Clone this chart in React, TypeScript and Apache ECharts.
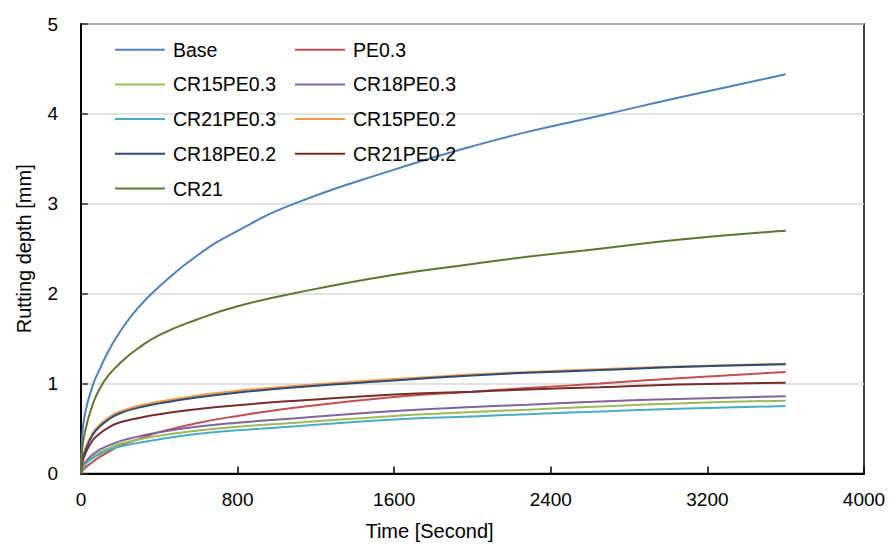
import React, { useEffect, useRef } from "react";
import * as echarts from "echarts";

const timeSec = [0, 5, 20, 60, 100, 140, 200, 290, 400, 590, 800, 1100, 1600, 2000, 2280, 2650, 3050, 3600];

const seriesNames = ["Base", "PE0.3", "CR15PE0.3", "CR18PE0.3", "CR21PE0.3", "CR15PE0.2", "CR18PE0.2", "CR21PE0.2", "CR21"];
const seriesColors = ["#4F81BD", "#C0504D", "#9BBB59", "#8064A2", "#4BACC6", "#F79646", "#2C4D75", "#772C2A", "#5F7530"];

const base = [0, 0.38, 0.66, 0.98, 1.18, 1.36, 1.58, 1.84, 2.08, 2.42, 2.7, 3.01, 3.38, 3.64, 3.8, 3.98, 4.18, 4.44];
const pe03 = [0, 0.02, 0.06, 0.13, 0.19, 0.24, 0.31, 0.38, 0.46, 0.56, 0.64, 0.735, 0.85, 0.91, 0.95, 1.0, 1.06, 1.13];
const cr15pe03 = [0, 0.04, 0.1, 0.18, 0.24, 0.28, 0.33, 0.375, 0.42, 0.475, 0.52, 0.565, 0.64, 0.685, 0.71, 0.745, 0.78, 0.81];
const cr18pe03 = [0, 0.05, 0.12, 0.21, 0.27, 0.31, 0.36, 0.41, 0.46, 0.52, 0.565, 0.615, 0.695, 0.74, 0.765, 0.8, 0.83, 0.86];
const cr21pe03 = [0, 0.04, 0.1, 0.17, 0.22, 0.26, 0.3, 0.34, 0.38, 0.44, 0.48, 0.525, 0.6, 0.635, 0.66, 0.69, 0.72, 0.75];
const cr15pe02 = [0, 0.12, 0.26, 0.45, 0.55, 0.62, 0.69, 0.75, 0.8, 0.865, 0.92, 0.975, 1.05, 1.1, 1.13, 1.16, 1.19, 1.22];
const cr18pe02 = [0, 0.11, 0.24, 0.43, 0.53, 0.6, 0.67, 0.73, 0.78, 0.845, 0.9, 0.96, 1.035, 1.09, 1.12, 1.15, 1.185, 1.215];
const cr21pe02 = [0, 0.1, 0.21, 0.37, 0.45, 0.51, 0.57, 0.615, 0.66, 0.715, 0.76, 0.81, 0.88, 0.91, 0.935, 0.96, 0.99, 1.01];
const cr21 = [0, 0.24, 0.46, 0.77, 0.96, 1.09, 1.23, 1.39, 1.54, 1.71, 1.86, 2.01, 2.21, 2.33, 2.41, 2.5, 2.6, 2.7];

const allValues = [base, pe03, cr15pe03, cr18pe03, cr21pe03, cr15pe02, cr18pe02, cr21pe02, cr21];

const xTicks = [0, 800, 1600, 2400, 3200, 4000];
const yTicks = [0, 1, 2, 3, 4, 5];

const legendLeft = ["Base", "CR15PE0.3", "CR21PE0.3", "CR18PE0.2", "CR21"];
const legendRight = ["PE0.3", "CR18PE0.3", "CR15PE0.2", "CR21PE0.2"];

const FONT = "'Liberation Sans', Arial, sans-serif";

export default function App() {
  const ref = useRef<HTMLDivElement>(null);
  useEffect(() => {
    document.body.style.margin = "0";
    const chart = echarts.init(ref.current!, null, { renderer: "svg" });
    const legendCommon = {
      orient: "vertical",
      itemWidth: 50,
      itemHeight: 14,
      itemGap: 14.7,
      padding: 0,
      icon: "path://M0,6L50,6L50,8L0,8Z",
      textStyle: { fontFamily: FONT, fontSize: 19.5, color: "#000", padding: [0, 0, 0, 3] },
    };
    chart.setOption({
      animation: false,
      color: seriesColors,
      textStyle: { fontFamily: FONT },
      grid: {
        left: 81,
        right: 26,
        top: 24,
        bottom: 72.5,
        show: true,
        borderColor: "#000",
        borderWidth: 1.5,
        containLabel: false,
      },
      legend: [
        { ...legendCommon, data: legendLeft, left: 115, top: 39.7 },
        { ...legendCommon, data: legendRight, left: 295, top: 39.7 },
      ],
      xAxis: {
        type: "value",
        min: xTicks[0],
        max: xTicks[xTicks.length - 1],
        interval: 800,
        name: "Time [Second]",
        nameLocation: "middle",
        nameGap: 47,
        nameTextStyle: { fontSize: 20, color: "#000", fontFamily: FONT, padding: [0, 86, 0, 0] },
        axisLine: { show: true, lineStyle: { color: "#000", width: 2 } },
        axisTick: { show: true, inside: true, length: 7, lineStyle: { color: "#000", width: 1.5 } },
        axisLabel: { fontSize: 19, color: "#000", margin: 16, fontFamily: FONT, formatter: (v: number) => String(v) },
        splitLine: { show: false },
      },
      yAxis: {
        type: "value",
        min: yTicks[0],
        max: yTicks[yTicks.length - 1],
        interval: 1,
        name: "Rutting depth [mm]",
        nameLocation: "middle",
        nameGap: 47,
        nameTextStyle: { fontSize: 20, color: "#000", fontFamily: FONT },
        axisLine: { show: true, lineStyle: { color: "#000", width: 2 } },
        axisTick: { show: true, inside: true, length: 7, lineStyle: { color: "#333", width: 1.5 } },
        axisLabel: { fontSize: 19, color: "#000", margin: 23, fontFamily: FONT, formatter: (v: number) => String(v) },
        splitLine: { show: true, lineStyle: { color: "#D9D9D9", width: 1.5 } },
      },
      series: seriesNames.map((name, i) => ({
        name,
        type: "line",
        showSymbol: false,
        symbol: "none",
        smooth: 0.5,
        lineStyle: { width: 2, color: seriesColors[i] },
        itemStyle: { color: seriesColors[i] },
        data: timeSec.map((t, j) => [t, allValues[i][j]]),
      })),
    });
    return () => chart.dispose();
  }, []);
  return <div ref={ref} style={{ width: 890, height: 546 }} />;
}
